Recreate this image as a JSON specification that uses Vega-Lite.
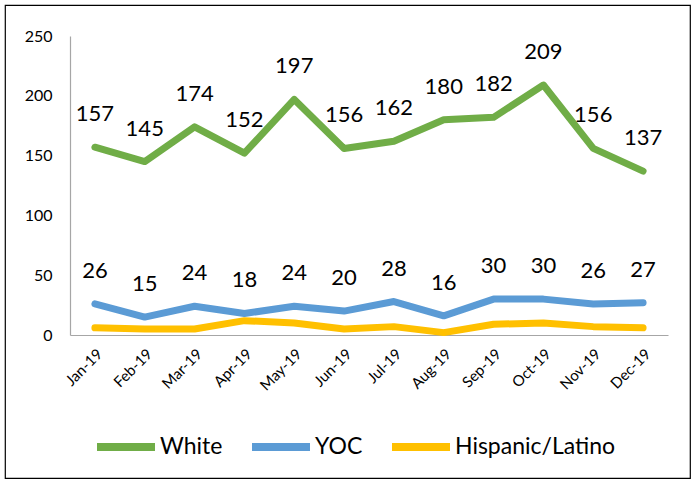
{
  "$schema": "https://vega.github.io/schema/vega-lite/v6.json",
  "autosize": "none",
  "width": 685,
  "height": 473,
  "padding": {"left": 5, "top": 5, "right": 4, "bottom": 5},
  "background": "white",
  "config": {
    "font": "Lato",
    "view": {"stroke": "black", "strokeWidth": 1.2, "fill": "white"}
  },
  "data": {
    "values": [
      {"month": "Jan-19", "series": "White", "value": 157},
      {"month": "Feb-19", "series": "White", "value": 145},
      {"month": "Mar-19", "series": "White", "value": 174},
      {"month": "Apr-19", "series": "White", "value": 152},
      {"month": "May-19", "series": "White", "value": 197},
      {"month": "Jun-19", "series": "White", "value": 156},
      {"month": "Jul-19", "series": "White", "value": 162},
      {"month": "Aug-19", "series": "White", "value": 180},
      {"month": "Sep-19", "series": "White", "value": 182},
      {"month": "Oct-19", "series": "White", "value": 209},
      {"month": "Nov-19", "series": "White", "value": 156},
      {"month": "Dec-19", "series": "White", "value": 137},
      {"month": "Jan-19", "series": "YOC", "value": 26},
      {"month": "Feb-19", "series": "YOC", "value": 15},
      {"month": "Mar-19", "series": "YOC", "value": 24},
      {"month": "Apr-19", "series": "YOC", "value": 18},
      {"month": "May-19", "series": "YOC", "value": 24},
      {"month": "Jun-19", "series": "YOC", "value": 20},
      {"month": "Jul-19", "series": "YOC", "value": 28},
      {"month": "Aug-19", "series": "YOC", "value": 16},
      {"month": "Sep-19", "series": "YOC", "value": 30},
      {"month": "Oct-19", "series": "YOC", "value": 30},
      {"month": "Nov-19", "series": "YOC", "value": 26},
      {"month": "Dec-19", "series": "YOC", "value": 27},
      {"month": "Jan-19", "series": "Hispanic/Latino", "value": 6},
      {"month": "Feb-19", "series": "Hispanic/Latino", "value": 5},
      {"month": "Mar-19", "series": "Hispanic/Latino", "value": 5},
      {"month": "Apr-19", "series": "Hispanic/Latino", "value": 12},
      {"month": "May-19", "series": "Hispanic/Latino", "value": 10},
      {"month": "Jun-19", "series": "Hispanic/Latino", "value": 5},
      {"month": "Jul-19", "series": "Hispanic/Latino", "value": 7},
      {"month": "Aug-19", "series": "Hispanic/Latino", "value": 2},
      {"month": "Sep-19", "series": "Hispanic/Latino", "value": 9},
      {"month": "Oct-19", "series": "Hispanic/Latino", "value": 10},
      {"month": "Nov-19", "series": "Hispanic/Latino", "value": 7},
      {"month": "Dec-19", "series": "Hispanic/Latino", "value": 6}
    ]
  },
  "encoding": {
    "x": {
      "field": "month",
      "type": "nominal",
      "sort": null,
      "scale": {"type": "band", "range": [65, 663], "paddingInner": 0, "paddingOuter": 0},
      "axis": {
        "title": null,
        "offset": -143,
        "labelAngle": -45,
        "labelFontSize": 15,
        "labelColor": "black",
        "labelPadding": 11,
        "ticks": false,
        "domainColor": "#a6a6a6",
        "domainWidth": 1.2,
        "grid": false
      }
    },
    "y": {
      "field": "value",
      "type": "quantitative",
      "scale": {"domain": [0, 250], "range": [330, 31], "nice": false},
      "axis": {
        "title": null,
        "offset": -65,
        "values": [0, 50, 100, 150, 200, 250],
        "labelFontSize": 16,
        "labelColor": "black",
        "labelPadding": 18,
        "ticks": false,
        "grid": false,
        "domainColor": "#a6a6a6",
        "domainWidth": 1.2
      }
    }
  },
  "layer": [
    {
      "mark": {"type": "line", "strokeWidth": 7, "strokeCap": "round", "strokeJoin": "round"},
      "encoding": {
        "color": {
          "field": "series",
          "type": "nominal",
          "scale": {"domain": ["White", "YOC", "Hispanic/Latino"], "range": ["#70AD47", "#5B9BD5", "#FFC000"]},
          "legend": {
            "title": null,
            "orient": "none",
            "legendX": 88,
            "legendY": 409,
            "direction": "horizontal",
            "columns": 3,
            "columnPadding": 13,
            "padding": 0,
            "symbolType": "stroke",
            "symbolSize": 3364,
            "symbolStrokeWidth": 8,
            "labelFontSize": 23,
            "labelLimit": 300,
            "labelColor": "black",
            "labelOffset": 1
          }
        }
      }
    },
    {
      "transform": [{"filter": "datum.series !== 'Hispanic/Latino'"}],
      "mark": {"type": "text", "fontSize": 22, "dy": -33, "baseline": "middle", "color": "black"},
      "encoding": {"text": {"field": "value", "type": "quantitative"}}
    }
  ]
}
